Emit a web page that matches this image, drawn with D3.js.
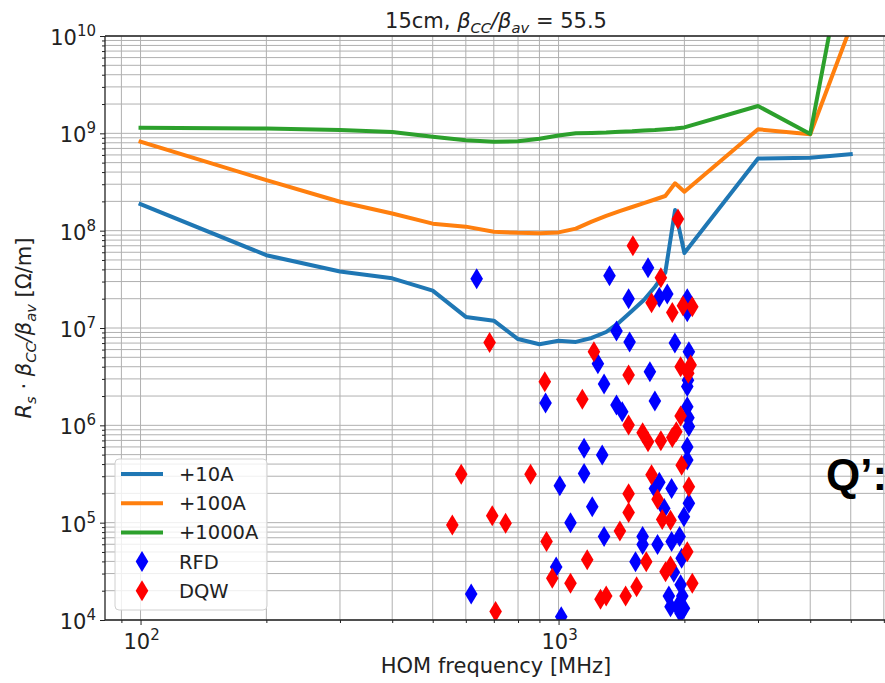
<!DOCTYPE html>
<html>
<head>
<meta charset="utf-8">
<script src="https://cdn.jsdelivr.net/npm/d3@7"></script>
<style>
  body { margin: 0; background: #fff; }
  svg { display: block; font-family: "DejaVu Sans", sans-serif; }
</style>
</head>
<body>
<svg id="chart" width="885" height="683"></svg>
<script>
// frequencies where the threshold curves were evaluated [MHz]
var freqs = [100, 200, 300, 400, 500, 600, 700, 800, 900, 1000, 1100, 1200, 1300, 1400,
  1500, 1600, 1700, 1800, 1900, 2000, 3000, 4000, 5000];

// Rs * bCC/bav thresholds [Ohm/m]
var thr10A = [1.87e8, 5.6e7, 3.8e7, 3.24e7, 2.42e7, 1.3e7, 1.19e7, 7.7e6, 6.8e6, 7.4e6,
  7.2e6, 7.9e6, 9.1e6, 1.15e7, 1.5e7, 1.94e7, 2.64e7, 3.7e7, 1.63e8, 5.9e7, 5.5e8, 5.6e8, 6.1e8];
var thr100A = [8.2e8, 3.3e8, 1.98e8, 1.5e8, 1.18e8, 1.1e8, 9.75e7, 9.5e7, 9.4e7, 9.6e7,
  1.05e8, 1.24e8, 1.42e8, 1.59e8, 1.75e8, 1.92e8, 2.09e8, 2.27e8, 3.07e8, 2.51e8, 1.1e9, 9.8e8, 1.25e10];
var thr1000A = [1.14e9, 1.12e9, 1.08e9, 1.03e9, 9.2e8, 8.5e8, 8.2e8, 8.3e8, 8.8e8, 9.5e8,
  1.0e9, 1.01e9, 1.02e9, 1.04e9, 1.05e9, 1.07e9, 1.08e9, 1.1e9, 1.12e9, 1.15e9, 1.91e9, 9.85e8, 1.5e11];

// HOMs of the RFD cavity
var rfdFreq = [637, 931, 1007, 1151, 1272, 1151, 1068, 1204, 987, 618, 1015, 1285, 1589, 1589,
  1528, 1725, 1742, 1700, 1864, 1790, 2050, 1995, 1864, 1948, 1970, 1887, 1836, 1959, 1977,
  1853, 1959, 1995, 1923, 2032, 2032, 2050, 2032, 2032, 2050, 1898, 2032, 2032, 1637, 1324,
  1471, 1742, 1820, 1376, 1479, 1242, 1654, 1285, 1700, 1376, 1420, 2040, 2045];
var rfdRs = [3.2e7, 1.7e6, 2.4e5, 5.8e5, 4.95e5, 3.2e5, 1.0e5, 1.46e5, 3.5e4, 1.85e4, 1.08e4,
  7.2e4, 7.2e4, 5.96e4, 3.97e4, 5.96e4, 2.6e5, 2.25e5, 2.25e5, 1.4e5, 1.58e5, 1.15e5, 6.4e4,
  7.2e4, 4.3e4, 3.1e4, 1.76e4, 2.3e4, 1.76e4, 1.37e4, 1.17e4, 1.32e4, 1.37e4, 6.0e5, 4.4e5,
  9.7e5, 1.55e6, 2.5e6, 5.7e6, 7.0e6, 2.0e7, 1.47e7, 4.16e7, 3.45e7, 2.0e7, 2.07e7, 2.24e7,
  9.3e6, 7.2e6, 4.3e6, 3.56e6, 2.66e6, 1.78e6, 1.62e6, 1.38e6, 2.9e6, 1.2e6];

// HOMs of the DQW cavity
var dqwFreq = [585, 857, 557, 694, 747, 936, 966, 1068, 1171, 707, 1402, 1260, 1300, 1447, 1537,
  1471, 1471, 1621, 1669, 1725, 1770, 1853, 1803, 1853, 1970, 2050, 2032, 2089, 684, 927, 1140,
  1215, 1471, 1471, 1589, 1637, 1757, 1871, 1913, 1959, 1959, 2070, 2043, 1984, 2089, 1871,
  1669, 1757, 1506, 1930];
var dqwRs = [3.14e5, 3.14e5, 9.46e4, 1.18e5, 9.85e4, 6.4e4, 2.68e4, 2.38e4, 4.16e4, 1.22e4,
  8.2e4, 1.63e4, 1.76e4, 1.76e4, 2.2e4, 1.98e5, 1.27e5, 3.97e4, 3.1e5, 1.74e5, 1.08e5, 1.06e5,
  3.13e4, 3.59e4, 3.9e5, 2.34e5, 5.03e4, 2.38e4, 7.1e6, 2.81e6, 1.85e6, 5.7e6, 3.29e6, 1.01e6,
  8.4e5, 6.8e5, 6.95e5, 7.5e5, 8.6e5, 1.25e6, 4.0e6, 4.17e6, 3.42e6, 1.69e7, 1.65e7, 1.44e7,
  1.82e7, 3.29e7, 7.0e7, 1.32e8];

var xMajor = [100, 1000];
var yMajor = [1e4, 1e5, 1e6, 1e7, 1e8, 1e9, 1e10];
var seriesNames = ["+10A", "+100A", "+1000A", "RFD", "DQW"];
var lineColors = ["#1f77b4", "#ff7f0e", "#2ca02c"];

var plotLeft = 105, plotTop = 36, plotRight = 886.7, plotBottom = 620;

var svg = d3.select("#chart");

var x = d3.scaleLog().domain([Math.pow(10, 1.915), Math.pow(10, 3.785)]).range([plotLeft, plotRight]);
var y = d3.scaleLog().domain([1e4, 1e10]).range([plotBottom, plotTop]);

// minor tick values (2..9 x decade) inside the domains
function minors(scale) {
  var dom = scale.domain(), out = [];
  for (var k = -1; k < 12; k++) {
    for (var m = 2; m <= 9; m++) {
      var v = m * Math.pow(10, k);
      if (v >= dom[0] && v <= dom[1]) out.push(v);
    }
  }
  return out;
}
var xMinor = minors(x);
var yMinor = minors(y);

svg.append("defs").append("clipPath").attr("id", "plotClip")
  .append("rect").attr("x", plotLeft).attr("y", plotTop)
  .attr("width", plotRight - plotLeft).attr("height", plotBottom - plotTop);

// grid, major + minor
var grid = svg.append("g").attr("stroke", "#b0b0b0").attr("stroke-width", 1);
grid.selectAll(".gx").data(xMajor.concat(xMinor)).enter().append("line")
  .attr("x1", function(d) { return x(d); }).attr("x2", function(d) { return x(d); })
  .attr("y1", plotTop).attr("y2", plotBottom);
grid.selectAll(".gy").data(yMajor.concat(yMinor)).enter().append("line")
  .attr("x1", plotLeft).attr("x2", plotRight)
  .attr("y1", function(d) { return y(d); }).attr("y2", function(d) { return y(d); });

var plot = svg.append("g").attr("clip-path", "url(#plotClip)");

var line = d3.line()
  .x(function(d) { return x(d[0]); })
  .y(function(d) { return y(d[1]); });

[thr10A, thr100A, thr1000A].forEach(function(vals, i) {
  plot.append("path")
    .datum(d3.zip(freqs, vals))
    .attr("d", line)
    .attr("fill", "none")
    .attr("stroke", lineColors[i])
    .attr("stroke-width", 4)
    .attr("stroke-linejoin", "round")
    .attr("stroke-linecap", "square");
});

var diamond = "M0,-10.5L6.3,0L0,10.5L-6.3,0Z";

plot.selectAll(".rfd").data(d3.zip(rfdFreq, rfdRs)).enter().append("path")
  .attr("d", diamond).attr("fill", "#0000ff")
  .attr("transform", function(d) { return "translate(" + x(d[0]) + "," + y(d[1]) + ")"; });

plot.selectAll(".dqw").data(d3.zip(dqwFreq, dqwRs)).enter().append("path")
  .attr("d", diamond).attr("fill", "#ff0000")
  .attr("transform", function(d) { return "translate(" + x(d[0]) + "," + y(d[1]) + ")"; });

// axes
var axisB = svg.append("g").attr("transform", "translate(0," + plotBottom + ")");
axisB.call(d3.axisBottom(x).tickValues(xMajor).tickSize(5).tickFormat(""));
axisB.append("g").call(d3.axisBottom(x).tickValues(xMinor).tickSize(3).tickFormat(""));
var axisL = svg.append("g").attr("transform", "translate(" + plotLeft + ",0)");
axisL.call(d3.axisLeft(y).tickValues(yMajor).tickSize(5).tickFormat(""));
axisL.append("g").call(d3.axisLeft(y).tickValues(yMinor).tickSize(3).tickFormat(""));
svg.selectAll(".domain").remove();
svg.selectAll(".tick line").attr("stroke", "#222").attr("stroke-width", 1);

svg.append("line").attr("x1", plotLeft).attr("x2", plotLeft).attr("y1", plotTop).attr("y2", plotBottom)
  .attr("stroke", "#222").attr("stroke-width", 1.3);
svg.append("line").attr("x1", plotLeft).attr("x2", plotRight).attr("y1", plotBottom).attr("y2", plotBottom)
  .attr("stroke", "#222").attr("stroke-width", 1.3);
svg.append("line").attr("x1", plotLeft).attr("x2", plotRight).attr("y1", plotTop).attr("y2", plotTop)
  .attr("stroke", "#222").attr("stroke-width", 1.3);

// 10^n tick labels
function powLabel(g, exp, anchor) {
  var t = g.append("text").attr("text-anchor", anchor).attr("fill", "#222");
  t.append("tspan").attr("font-size", 21).text("10");
  t.append("tspan").attr("font-size", 15).attr("dy", -9).text(exp);
  return t;
}
yMajor.forEach(function(v) {
  var e = Math.round(Math.log10(v));
  powLabel(svg, e, "end").attr("x", 96).attr("y", y(v) + 9);
});
xMajor.forEach(function(v) {
  var e = Math.round(Math.log10(v));
  powLabel(svg, e, "middle").attr("x", x(v) + 1).attr("y", 649);
});

// mathtext-like runs: [text, kind] kind n = normal, i = italic, s = italic subscript
function mathRuns(t, parts, size) {
  var shift = 0;
  parts.forEach(function(p) {
    var ts = t.append("tspan").text(p[0]);
    var want = p[1] === "s" ? size * 0.22 : 0;
    if (want !== shift) { ts.attr("dy", want - shift); shift = want; }
    if (p[1] !== "n") ts.attr("font-style", "italic");
    if (p[1] === "s") ts.attr("font-size", size * 0.7);
  });
}

var title = svg.append("text").attr("x", 496).attr("y", 28)
  .attr("text-anchor", "middle").attr("font-size", 21).attr("fill", "#222");
mathRuns(title, [["15cm, ", "n"], ["β", "i"], ["CC", "s"], ["/β", "i"], ["av", "s"],
  [" = 55.5", "n"]], 21);

svg.append("text").attr("x", 496).attr("y", 673).attr("text-anchor", "middle")
  .attr("font-size", 21).attr("fill", "#222").text("HOM frequency [MHz]");

var ylab = svg.append("text").attr("transform", "translate(31,328) rotate(-90)")
  .attr("text-anchor", "middle").attr("font-size", 21).attr("fill", "#222");
mathRuns(ylab, [["R", "i"], ["s", "s"], [" · ", "n"], ["β", "i"], ["CC", "s"], ["/β", "i"],
  ["av", "s"], [" [Ω/m]", "n"]], 21);

// legend
var leg = svg.append("g");
leg.append("rect").attr("x", 115).attr("y", 459).attr("width", 152).attr("height", 151)
  .attr("rx", 4).attr("fill", "#fff").attr("fill-opacity", 0.8)
  .attr("stroke", "#d0d0d0").attr("stroke-width", 1);
seriesNames.forEach(function(name, i) {
  var cy = 474 + i * 29.2;
  if (i < 3) {
    leg.append("line").attr("x1", 121).attr("x2", 163).attr("y1", cy).attr("y2", cy)
      .attr("stroke", lineColors[i]).attr("stroke-width", 4);
  } else {
    leg.append("path").attr("d", diamond)
      .attr("fill", i === 3 ? "#0000ff" : "#ff0000")
      .attr("transform", "translate(142," + cy + ")");
  }
  leg.append("text").attr("x", 179).attr("y", cy + 7).attr("font-size", 19.5)
    .attr("fill", "#222").text(name);
});

// overlay label from the slide
svg.append("text").attr("x", 826).attr("y", 490)
  .attr("font-family", "Liberation Sans, Arial, sans-serif").attr("font-weight", "bold")
  .attr("font-size", 44).attr("fill", "#000").text("Q’:");
</script>
</body>
</html>
